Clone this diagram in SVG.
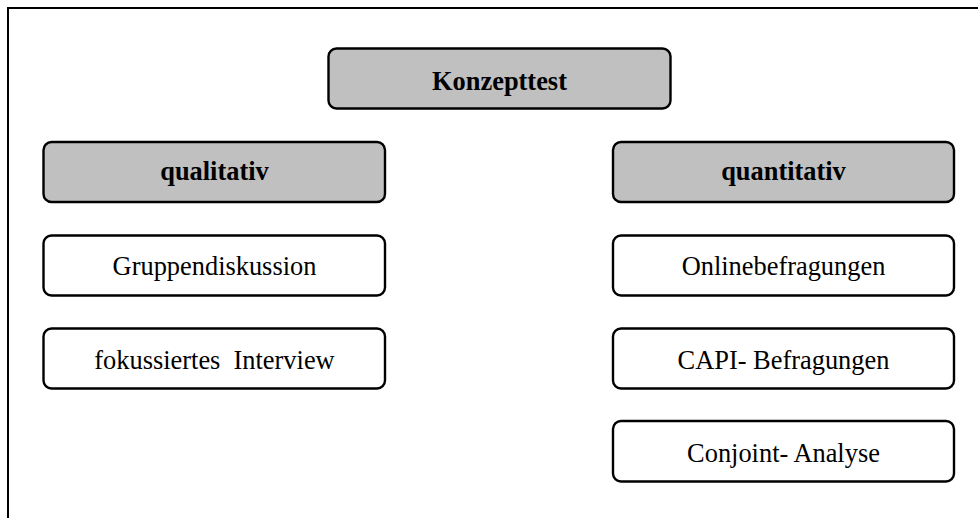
<svg xmlns="http://www.w3.org/2000/svg" width="978" height="518" viewBox="0 0 978 518">
  <style>
    .frame { fill: none; stroke: #000; stroke-width: 2; }
    .box { stroke: #000; stroke-width: 2.4; }
    .head { fill: #c0c0c0; }
    .item { fill: #fff; }
    text { font-family: "Liberation Serif", "Times New Roman", serif; font-size: 26.4px; fill: #000; text-anchor: middle; white-space: pre; }
    .bold { font-weight: bold; }
  </style>
  <rect width="978" height="518" fill="#fff"/>
  <!-- outer frame, running past the right and bottom edges -->
  <rect class="frame" x="8" y="8" width="990" height="540"/>

  <g id="konzepttest">
    <rect class="box head" x="328.5" y="48.5" width="342" height="60" rx="8"/>
    <text class="bold" x="499.5" y="90">Konzepttest</text>
  </g>

  <g id="qualitativ">
    <rect class="box head" x="43.5" y="142" width="341.5" height="60" rx="8"/>
    <text class="bold" x="214.5" y="180">qualitativ</text>
  </g>
  <g id="quantitativ">
    <rect class="box head" x="613" y="142" width="341" height="60" rx="8"/>
    <text class="bold" x="783.5" y="180">quantitativ</text>
  </g>

  <g id="gruppendiskussion">
    <rect class="box item" x="43.5" y="235.5" width="341.5" height="60" rx="8"/>
    <text x="214.5" y="275">Gruppendiskussion</text>
  </g>
  <g id="fokussiertes-interview">
    <rect class="box item" x="43.5" y="328.5" width="341.5" height="60" rx="8"/>
    <text x="214.5" y="368.5">fokussiertes  Interview</text>
  </g>

  <g id="onlinebefragungen">
    <rect class="box item" x="613" y="235.5" width="341" height="60" rx="8"/>
    <text x="783.5" y="275">Onlinebefragungen</text>
  </g>
  <g id="capi-befragungen">
    <rect class="box item" x="613" y="328.5" width="341" height="60" rx="8"/>
    <text x="783.5" y="368.5">CAPI- Befragungen</text>
  </g>
  <g id="conjoint-analyse">
    <rect class="box item" x="613" y="421" width="341" height="60.5" rx="8"/>
    <text x="783.5" y="461.5">Conjoint- Analyse</text>
  </g>

  <g id="connectors"/>
</svg>
